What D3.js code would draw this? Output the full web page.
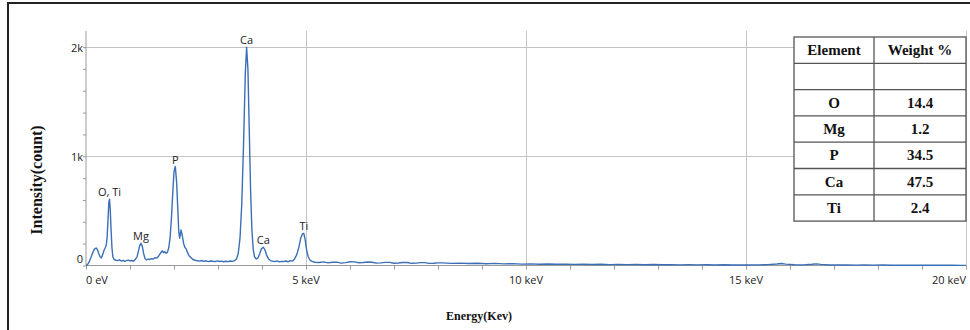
<!DOCTYPE html>
<html><head><meta charset="utf-8">
<script src="https://cdn.jsdelivr.net/npm/d3@7"></script>
<style>
html,body{margin:0;padding:0;background:#fff;}
svg{display:block;}
</style></head>
<body>
<svg id="chart" width="970" height="330"></svg>
<script>
// ---- data ----
const energyKeV = [
0.00,0.03,0.07,0.11,0.15,0.19,0.23,0.26,0.29,0.32,0.35,0.38,0.41,0.44,0.46,0.48,0.50,0.52,0.535,0.55,0.57,0.59,0.61,0.64,0.68,
0.72,0.76,0.80,0.84,0.88,0.92,0.96,1.00,1.04,1.08,1.12,1.16,1.19,1.22,1.25,1.28,1.31,1.34,1.37,1.41,1.45,1.49,1.53,1.57,1.61,1.65,1.69,1.73,1.76,1.79,1.82,1.85,1.88,1.91,1.94,1.97,2.00,2.03,2.06,2.09,2.11,2.13,2.16,2.19,2.22,2.25,2.28,2.31,2.35,2.39,2.43,2.48,2.53,
2.58,2.63,2.68,2.73,2.78,2.83,2.88,2.93,2.98,3.03,3.08,3.13,3.18,3.23,3.28,3.33,3.38,3.42,3.46,3.50,3.54,3.58,3.62,3.65,3.68,3.71,3.74,3.77,3.80,3.83,3.87,3.91,3.95,3.99,4.03,4.07,4.11,4.15,4.19,4.24,4.29,4.34,4.39,4.44,4.49,4.54,4.59,4.64,4.69,4.74,4.79,4.84,4.88,4.92,4.95,4.98,5.01,5.05,5.09,5.14,5.20,
5.3,5.4,5.5,5.6,5.7,5.8,5.9,6.0,6.1,6.2,6.3,6.4,6.5,6.6,6.7,6.8,6.9,7.0,7.1,7.2,7.3,7.4,7.5,7.6,7.7,7.8,7.9,8.0,8.1,8.3,8.5,8.7,8.9,9.1,9.3,9.5,9.7,9.9,10.1,10.3,10.5,10.7,10.9,11.1,11.3,11.5,11.7,11.9,12.1,12.3,12.5,12.7,12.9,13.1,13.3,13.5,13.7,13.9,14.1,14.3,14.5,14.7,14.9,15.1,15.3,15.5,15.7,15.8,15.9,16.1,16.3,16.5,16.6,16.7,16.9,17.1,17.3,17.5,17.7,17.9,18.1,18.3,18.5,18.7,18.9,19.1,19.3,19.5,19.7,19.9,20.0
];
const counts = [
0,5,30,70,115,150,160,145,110,80,70,100,140,165,185,260,420,580,607,520,330,160,80,55,48,
45,52,41,47,38,44,50,42,46,40,55,80,130,180,204,175,110,65,52,58,55,63,60,72,68,85,110,135,118,127,112,120,160,250,420,650,860,906,760,480,300,250,325,270,200,165,150,115,85,70,55,48,44,
40,46,38,43,36,41,39,35,42,37,40,34,39,36,41,38,45,60,110,250,560,1100,1750,1998,1800,1250,700,330,150,80,60,70,110,155,167,140,90,60,45,40,35,42,33,38,36,41,34,45,40,60,100,170,250,290,295,240,150,80,50,38,30,
28,33,24,30,31,22,26,34,33,25,27,32,30,22,24,29,29,21,23,27,27,20,22,26,26,19,21,24,24,19,22,18,21,16,19,15,17,13,15,12,14,11,13,10,12,9,11,8,10,8,9,7,9,7,8,6,8,6,7,5,7,5,6,5,6,8,14,18,13,7,6,11,15,10,5,4,5,3,4,3,4,2,3,2,3,2,3,2,2,1,1
];
const xTickValues = [0,5,10,15,20];
const xTickLabels = ["0 eV","5 keV","10 keV","15 keV","20 keV"];
const yTickValues = [0,1000,2000];
const yTickLabels = ["0","1k","2k"];
const peakNames = ["O, Ti","Mg","P","Ca","Ca","Ti"];
const peakEnergies = [0.535,1.25,2.03,3.65,4.03,4.95];
const peakCounts = [607,204,906,1998,167,295];
const tableHeader = ["Element","Weight %"];
const tableElements = ["","O","Mg","P","Ca","Ti"];
const tableWeights = ["","14.4","1.2","34.5","47.5","2.4"];

// ---- layout ----
const svg = d3.select("#chart");
const x = d3.scaleLinear().domain([0,20]).range([86,966]);
const y = d3.scaleLinear().domain([0,2147]).range([265.5,31]);
const sans = "'Open Sans','Noto Sans',sans-serif";
const serif = "'Liberation Serif','Times New Roman',serif";

// frame
svg.append("path").attr("d","M8,340 L8,3 L980,3")
  .attr("fill","none").attr("stroke","#222").attr("stroke-width",2);

// gridlines
svg.append("g").selectAll("line").data(yTickValues.filter(v=>v>0)).join("line")
  .attr("x1",x(0)).attr("x2",x(20)).attr("y1",d=>Math.round(y(d))+0.5).attr("y2",d=>Math.round(y(d))+0.5)
  .attr("stroke","#c4c4c4").attr("stroke-width",1);
svg.append("g").selectAll("line").data(xTickValues.filter(v=>v>0)).join("line")
  .attr("y1",y.range()[1]).attr("y2",y(0)).attr("x1",d=>Math.round(x(d))+0.5).attr("x2",d=>Math.round(x(d))+0.5)
  .attr("stroke","#c4c4c4").attr("stroke-width",1);

// y axis
const yAxis = d3.axisLeft(y).tickValues(d3.range(0,2001,200)).tickSize(3).tickFormat("");
const gy = svg.append("g").attr("transform",`translate(${x(0)},0)`).call(yAxis);
gy.select(".domain").attr("stroke","#9a9a9a").attr("d",`M0,${y.range()[1]}V${y(0)}`);
gy.selectAll(".tick line").attr("stroke","#9a9a9a");
svg.append("g").selectAll("text").data(yTickValues).join("text")
  .attr("x",x(0)-3).attr("y",(d,i)=> d===0 ? y(d)-3 : y(d)+5)
  .attr("text-anchor","end").attr("font-family",sans).attr("font-size",11).attr("fill","#222")
  .text((d,i)=>yTickLabels[i]);

// x axis
const xAxis = d3.axisBottom(x).tickValues(d3.range(0,21,1)).tickSize(4).tickFormat("");
const gx = svg.append("g").attr("transform",`translate(0,${y(0)})`).call(xAxis);
gx.select(".domain").attr("stroke","#9a9a9a").attr("d",`M${x(0)},0H${x(20)}`);
gx.selectAll(".tick line").attr("stroke","#9a9a9a");
svg.append("g").selectAll("text").data(xTickValues).join("text")
  .attr("x",d=>x(d)).attr("y",284)
  .attr("text-anchor",(d,i)=> i===0 ? "start" : (i===xTickValues.length-1 ? "end" : "middle"))
  .attr("font-family",sans).attr("font-size",11).attr("fill","#222")
  .text((d,i)=>xTickLabels[i]);

// spectrum
const pts = energyKeV.map((e,i)=>[e,counts[i]]);
svg.append("path").datum(pts)
  .attr("d",d3.line().x(d=>x(d[0])).y(d=>y(d[1])))
  .attr("fill","none").attr("stroke","#3b6fb6").attr("stroke-width",1.4).attr("stroke-linejoin","round");

// peak labels
svg.append("g").selectAll("text").data(peakNames).join("text")
  .attr("x",(d,i)=>x(peakEnergies[i])).attr("y",(d,i)=>y(peakCounts[i])-3)
  .attr("text-anchor","middle").attr("font-family",sans).attr("font-size",11).attr("fill","#222")
  .text(d=>d);

// axis titles
svg.append("text").attr("transform","translate(42,180) rotate(-90)")
  .attr("text-anchor","middle").attr("font-family",serif).attr("font-weight","bold").attr("font-size",16)
  .attr("fill","#111").text("Intensity(count)");
svg.append("text").attr("x",479).attr("y",320)
  .attr("text-anchor","middle").attr("font-family",serif).attr("font-weight","bold").attr("font-size",12)
  .attr("fill","#111").text("Energy(Kev)");

// table
const tX0 = 794, tX1 = 874, tX2 = 966, tY0 = 37, rowH = 26.3;
const rows = [tableHeader].concat(tableElements.map((e,i)=>[e,tableWeights[i]]));
const tg = svg.append("g");
tg.append("rect").attr("x",tX0).attr("y",tY0).attr("width",tX2-tX0).attr("height",rowH*rows.length)
  .attr("fill","#fff").attr("stroke","#555").attr("stroke-width",1.3);
tg.selectAll("line.row").data(d3.range(1,rows.length)).join("line")
  .attr("x1",tX0).attr("x2",tX2).attr("y1",i=>tY0+rowH*i).attr("y2",i=>tY0+rowH*i)
  .attr("stroke","#555").attr("stroke-width",1.3);
tg.append("line").attr("x1",tX1).attr("x2",tX1).attr("y1",tY0).attr("y2",tY0+rowH*rows.length)
  .attr("stroke","#555").attr("stroke-width",1.3);
rows.forEach((r,i)=>{
  [[r[0],(tX0+tX1)/2],[r[1],(tX1+tX2)/2]].forEach(([t,cx])=>{
    tg.append("text").attr("x",cx).attr("y",tY0+rowH*i+rowH/2+5)
      .attr("text-anchor","middle").attr("font-family",serif).attr("font-weight","bold")
      .attr("font-size",15).attr("fill","#111").text(t);
  });
});
</script>
</body></html>
